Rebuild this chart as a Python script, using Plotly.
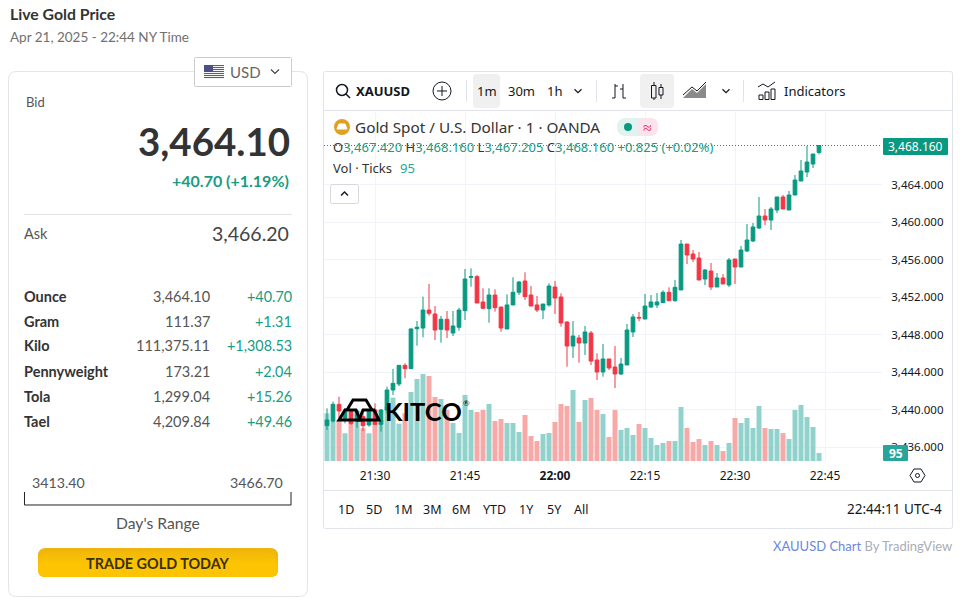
import pandas as pd
import plotly.graph_objects as go

W = 961
H = 598

# 1 minute candles, 21:22 to 22:44
times = pd.date_range("2025-04-21 21:22", periods=83, freq="min")
opens = [3438.28, 3438.77, 3440.55, 3439.06, 3439.77, 3438.77, 3439.24, 3438.35, 3439.95, 3438.42,
         3439.95, 3442.08, 3442.72, 3444.71, 3444.36, 3448.62, 3448.69, 3450.61, 3450.19, 3448.55,
         3449.62, 3448.16, 3448.77, 3450.54, 3454.10, 3454.17, 3451.47, 3450.76, 3452.21, 3450.93,
         3448.59, 3451.15, 3452.50, 3453.71, 3452.21, 3451.15, 3450.61, 3451.15, 3453.07, 3452.00,
         3449.33, 3446.77, 3447.63, 3447.09, 3448.16, 3445.28, 3444.00, 3445.39, 3444.53, 3443.79,
         3444.75, 3448.27, 3449.83, 3449.65, 3450.93, 3451.15, 3451.40, 3452.50, 3451.61, 3452.75,
         3457.65, 3456.59, 3456.16, 3453.92, 3454.77, 3453.07, 3454.03, 3453.28, 3456.05, 3455.20,
         3456.91, 3457.97, 3459.36, 3460.64, 3460.21, 3461.28, 3462.67, 3461.28, 3462.88, 3464.37,
         3465.33, 3466.19, 3467.42]
highs = [3440.12, 3440.84, 3441.37, 3440.12, 3439.95, 3439.95, 3439.95, 3439.88, 3440.66, 3440.05,
         3442.44, 3444.32, 3444.71, 3444.93, 3448.66, 3449.44, 3452.04, 3453.39, 3451.04, 3449.97,
         3450.51, 3450.51, 3450.86, 3454.99, 3455.06, 3454.35, 3452.93, 3452.93, 3452.82, 3450.93,
         3452.28, 3454.10, 3453.71, 3454.63, 3453.17, 3452.11, 3451.25, 3453.46, 3453.71, 3452.39,
         3449.41, 3449.44, 3447.95, 3448.91, 3448.37, 3445.99, 3446.99, 3445.39, 3446.77, 3445.49,
         3449.12, 3450.19, 3450.40, 3452.32, 3452.21, 3452.43, 3452.71, 3453.03, 3453.81, 3458.08,
         3457.65, 3457.01, 3456.80, 3454.99, 3455.63, 3454.56, 3454.45, 3456.16, 3456.05, 3457.44,
         3459.79, 3459.89, 3462.67, 3461.39, 3461.60, 3462.67, 3462.88, 3463.31, 3465.01, 3466.61,
         3468.11, 3467.25, 3468.16]
lows = [3437.81, 3438.63, 3438.88, 3438.52, 3438.35, 3438.06, 3437.71, 3438.17, 3438.35, 3437.64,
        3439.59, 3441.55, 3442.51, 3443.33, 3444.36, 3446.81, 3447.70, 3450.01, 3447.41, 3447.13,
        3447.63, 3447.84, 3448.41, 3449.55, 3453.10, 3451.36, 3450.69, 3449.26, 3450.44, 3448.30,
        3448.59, 3451.15, 3452.21, 3451.68, 3451.04, 3450.40, 3449.65, 3450.97, 3450.19, 3448.84,
        3444.57, 3445.49, 3445.00, 3445.81, 3444.75, 3443.15, 3443.50, 3444.21, 3442.29, 3443.68,
        3444.75, 3447.73, 3449.41, 3449.65, 3450.83, 3450.83, 3451.40, 3451.61, 3451.50, 3452.75,
        3455.52, 3455.73, 3453.81, 3453.28, 3452.75, 3453.07, 3453.39, 3453.07, 3453.39, 3455.20,
        3456.80, 3457.87, 3459.25, 3459.68, 3459.15, 3460.96, 3461.39, 3461.28, 3462.88, 3464.37,
        3464.80, 3465.76, 3467.205]
closes = [3438.88, 3440.55, 3439.84, 3439.77, 3438.52, 3439.84, 3438.28, 3439.77, 3438.42, 3439.95,
          3442.08, 3442.79, 3444.71, 3444.36, 3448.59, 3448.77, 3450.61, 3450.26, 3448.48, 3449.62,
          3448.48, 3448.91, 3450.61, 3453.92, 3454.17, 3451.36, 3450.79, 3452.21, 3450.86, 3448.69,
          3451.15, 3452.50, 3453.60, 3452.04, 3451.04, 3450.61, 3451.25, 3453.17, 3451.89, 3449.23,
          3446.77, 3447.84, 3447.09, 3448.27, 3445.17, 3444.00, 3445.39, 3444.43, 3443.79, 3444.85,
          3448.48, 3449.87, 3449.76, 3451.04, 3451.47, 3451.47, 3452.50, 3451.61, 3453.03, 3457.65,
          3456.48, 3456.05, 3453.81, 3454.88, 3453.07, 3454.03, 3453.39, 3455.95, 3455.20, 3457.01,
          3458.08, 3459.47, 3460.64, 3460.21, 3461.39, 3462.67, 3461.39, 3462.88, 3464.48, 3465.44,
          3466.40, 3467.25, 3468.16]
volumes = [566, 475, 487, 329, 467, 487, 388, 329, 447, 487,
           645, 752, 443, 566, 819, 974, 1033, 1009, 760, 736,
           606, 451, 332, 784, 606, 582, 606, 677, 475, 499,
           451, 451, 344, 546, 297, 237, 321, 332, 463, 677,
           653, 843, 463, 724, 748, 606, 558, 285, 606, 368,
           392, 309, 439, 392, 273, 190, 214, 237, 237, 641,
           392, 226, 261, 190, 237, 190, 119, 214, 511, 451,
           511, 392, 653, 392, 380, 380, 332, 261, 606, 665,
           522, 404, 95]

price_ticks = [3436, 3440, 3444, 3448, 3452, 3456, 3460, 3464]
time_ticks = ["2025-04-21 21:30", "2025-04-21 21:45", "2025-04-21 22:00",
              "2025-04-21 22:15", "2025-04-21 22:30", "2025-04-21 22:45"]
time_labels = ["21:30", "21:45", "<b>22:00</b>", "22:15", "22:30", "22:45"]
range_buttons = ["1D", "5D", "1M", "3M", "6M", "YTD", "1Y", "5Y", "All"]

row_names = ["Ounce", "Gram", "Kilo", "Pennyweight", "Tola", "Tael"]
row_prices = ["3,464.10", "111.37", "111,375.11", "173.21", "1,299.04", "4,209.84"]
row_changes = ["+40.70", "+1.31", "+1,308.53", "+2.04", "+15.26", "+49.46"]

UP = "#089981"
DOWN = "#f23645"
GRID = "#f0f3fa"
TV_FONT = "Noto Sans"
SITE_FONT = "Lato"

shapes = []
notes = []


def px(x):
    return x / W


def py(y):
    return 1 - y / H


def label(x, y, text, size=13, color="#131722", anchor="left", font=SITE_FONT, weight=None):
    # annotation boxes pad their text by about 2px
    if anchor == "left":
        x -= 2
    elif anchor == "right":
        x += 2
    f = dict(family=font, size=size, color=color)
    if weight:
        f["weight"] = weight
    notes.append(dict(x=px(x), y=py(y), xref="paper", yref="paper", text=text, showarrow=False,
                      xanchor=anchor, yanchor="middle", font=f))


def path(points, color="#131722", width=1, fill=None, close=False, layer="above"):
    d = ""
    for i, p in enumerate(points):
        d += ("M" if i == 0 else "L") + f"{px(p[0]):.5f},{py(p[1]):.5f} "
    if close:
        d += "Z"
    shapes.append(dict(type="path", path=d, xref="paper", yref="paper", layer=layer,
                       line=dict(color=color, width=width), fillcolor=fill))


def box(x0, y0, x1, y1, fill=None, line=None, width=1, r=0, layer="above"):
    p = lambda x, y: f"{px(x):.5f},{py(y):.5f}"
    d = (f"M{p(x0 + r, y0)} L{p(x1 - r, y0)} Q{p(x1, y0)} {p(x1, y0 + r)} "
         f"L{p(x1, y1 - r)} Q{p(x1, y1)} {p(x1 - r, y1)} L{p(x0 + r, y1)} "
         f"Q{p(x0, y1)} {p(x0, y1 - r)} L{p(x0, y0 + r)} Q{p(x0, y0)} {p(x0 + r, y0)} Z")
    shapes.append(dict(type="path", path=d, xref="paper", yref="paper", layer=layer, fillcolor=fill,
                       line=dict(color=line if line else "rgba(0,0,0,0)", width=width if line else 0)))


def circle(cx, cy, r, fill=None, line=None, width=1):
    shapes.append(dict(type="circle", xref="paper", yref="paper", x0=px(cx - r), x1=px(cx + r),
                       y0=py(cy + r), y1=py(cy - r), fillcolor=fill,
                       line=dict(color=line if line else "rgba(0,0,0,0)", width=width if line else 0)))


def chevron(cx, cy, color="#131722", s=4):
    path([(cx - s, cy - s / 2), (cx, cy + s / 2), (cx + s, cy - s / 2)], color=color, width=1.2)


# left card
label(10, 14, "Live Gold Price", 15.8, "#333333", weight=700)
label(10, 37, "Apr 21, 2025 - 22:44 NY Time", 13.5, "#707070")
box(8.5, 71.5, 307.5, 596.5, fill="white", line="#e4e4e4", r=8)
box(194.5, 57.5, 291.5, 86.5, fill="white", line="#cccccc", r=1)
for i in range(7):
    box(204, 65 + i * 2, 224, 66 + i * 2, fill="#c8313e")
    box(204, 66 + i * 2, 224, 67 + i * 2, fill="#f4f4f4")
box(204, 65, 213, 72, fill="#4a4f86")
label(230, 72, "USD", 15, "#666666")
chevron(275, 71.5, "#444444")
label(26, 102, "Bid", 13, "#555555")
label(290, 140.5, "3,464.10", 38.5, "#333333", "right", weight=700)
label(289, 180, "+40.70 (+1.19%)", 16, "#1a9b83", "right", weight=700)
path([(24, 214.5), (292, 214.5)], "#e2e2e2")
label(24, 233, "Ask", 14.5, "#555555")
label(289, 234, "3,466.20", 19.5, "#444444", "right")
for i, name in enumerate(row_names):
    y = 296 + i * 25
    label(24, y, name, 14.5, "#333333", weight=700)
    label(210, y, row_prices[i], 14.5, "#555555", "right")
    label(292, y, row_changes[i], 14.4, "#1a9b83", "right")
label(32, 482, "3413.40", 14.2, "#555555")
label(283, 482, "3466.70", 14.2, "#555555", "right")
path([(24.5, 492), (24.5, 505), (291, 505), (291, 492)], "#222222")
label(158, 523, "Day's Range", 15.7, "#555555", "center")
gold = ["#eeb40c", "#f0b60b", "#f2b909", "#f4bb08", "#f6bd07", "#f8c005", "#fac204", "#fcc402"]
for i, c in enumerate(gold):
    box(38, 548 + i * 2, 278, 577, fill=c, r=8)
label(158, 563, "TRADE GOLD TODAY", 14.4, "#3a2f10", "center", weight=700)

# chart frame and toolbar
box(323.5, 71.5, 952.5, 528.5, line="#e0e3eb", r=2, layer="below")
path([(324, 110.5), (952, 110.5)], "#e0e3eb")
path([(324, 490.5), (952, 490.5)], "#e0e3eb")
circle(342, 90, 5.5, line="#131722", width=1.5)
path([(346, 94), (350, 98)], width=1.5)
label(356, 91, "XAUUSD", 13, "#131722", font=TV_FONT, weight=700)
circle(442, 91, 9, line="#131722")
path([(442, 86), (442, 96)])
path([(437, 91), (447, 91)])
path([(466.5, 80), (466.5, 102)], "#e0e3eb")
box(473, 74, 500, 108, fill="#f0f0f0", r=4)
label(487, 91, "1m", 13, font=TV_FONT, anchor="center")
label(521, 91, "30m", 13, font=TV_FONT, anchor="center")
label(554, 91, "1h", 13, font=TV_FONT, anchor="center")
chevron(578, 91, s=3.5)
path([(596.5, 80), (596.5, 102)], "#e0e3eb")
path([(612, 98), (615, 98), (615, 84)])
path([(615, 86), (618, 86)])
path([(620, 89), (623, 89)])
path([(623, 84), (623, 98), (626, 98)])
box(640, 74, 674, 108, fill="#f0f0f0", r=4)
path([(654, 82), (654, 100)])
box(651.5, 85.5, 656, 98, fill="#f0f0f0", line="#131722")
path([(661, 84), (661, 99)])
box(659, 87.5, 663, 95, fill="#f0f0f0", line="#131722")
path([(683, 98), (692, 89), (697, 93), (706, 84), (706, 98)], "rgba(0,0,0,0)", fill="#8a8a8a", close=True)
path([(683, 95), (692, 87), (697, 91), (706, 82)])
chevron(726, 91, s=3.5)
path([(743.5, 80), (743.5, 102)], "#e0e3eb")
path([(758, 87), (763, 84), (768, 87), (775, 82)])
box(759, 95, 763, 99.5, line="#131722")
box(765, 92, 769, 99.5, line="#131722")
box(771, 89, 775, 99.5, line="#131722")
label(784, 91, "Indicators", 13, font=TV_FONT)

# legend block
circle(342, 127, 8, fill="#dfa11f")
path([(339, 124), (345, 124), (347, 129), (337, 129)], "white", fill="white", close=True)
label(355, 127, "Gold Spot / U.S. Dollar · 1 · OANDA", 15.3, "#333333", font=TV_FONT)
box(617, 118, 658, 136, fill="#e0f3f0", r=9)
box(637, 118, 658, 136, fill="#fce3ec", r=8)
circle(628, 127, 4, fill=UP)
label(647, 127, "≈", 16, "#e91e63", "center", font=TV_FONT)
ohlc = [("O", "3,467.420"), ("H", "3,468.160"), ("L", "3,467.205"), ("C", "3,468.160")]
text = ""
for name, value in ohlc:
    text += f"<span style='color:#333333'>{name}</span>{value} "
text += "+0.825 (+0.02%)"
label(333, 147, text, 13, "#1a9b83", font=TV_FONT)
label(333, 168, "Vol · Ticks", 13, "#333333", font=TV_FONT)
label(400, 168, "95", 13, "#26a69a", font=TV_FONT)
box(330.5, 184.5, 358.5, 203.5, fill="white", line="#d6d8de", r=2)
path([(341, 195.5), (344.5, 192), (348, 195.5)], width=1.4)

# last price line and labels
shapes.append(dict(type="line", xref="paper", yref="y2", x0=px(324), x1=px(882),
                   y0=closes[-1], y1=closes[-1],
                   line=dict(color=UP, width=1, dash="1px,2px")))
box(883, 138, 948, 155, fill=UP, r=1)
label(915.5, 146.5, "3,468.160", 12, "white", "center", font=TV_FONT)
box(883, 445, 908, 461, fill="#26a69a", r=1)
label(895.5, 453, "95", 12, "white", "center", font=TV_FONT, weight=700)

# logo
path([(347, 410), (353, 400), (366, 400), (372, 410)], "black", width=3)
path([(345, 410), (356, 410), (360, 420), (339, 420)], "black", width=3, close=True)
path([(363, 410), (374, 410), (379, 420), (359, 420)], "black", width=3, close=True)
label(385, 411, "KITCO", 25.5, "black", font="Lato", weight=700)
label(466, 403, "®", 8, "black", "center", font="Lato")

# time axis corner
path([(910, 475.5), (914, 469), (921, 469), (925, 475.5), (921, 482), (914, 482)], close=True)
circle(917.5, 475.5, 2, line="#131722")

# bottom bar
xs = [346, 374, 403, 432, 461, 494, 526, 554, 581]
for name, x in zip(range_buttons, xs):
    label(x, 509, name, 12.5, anchor="center", font=TV_FONT)
label(942, 509, "22:44:11 UTC-4", 13.5, anchor="right", font=TV_FONT)
label(952, 546, "<span style='color:#6a87dd'>XAUUSD Chart</span> By TradingView", 13,
      "#a9adb5", "right")

vol_colors = ["#92d2cc" if c >= o else "#f7a9a7" for o, c in zip(opens, closes)]

fig = go.Figure()
fig.add_trace(go.Bar(x=times, y=volumes, marker_color=vol_colors, marker_line_width=0,
                     width=50000, yaxis="y", hoverinfo="skip"))
fig.add_trace(go.Candlestick(x=times, open=opens, high=highs, low=lows, close=closes, yaxis="y2",
                             increasing=dict(line=dict(color=UP, width=1), fillcolor=UP),
                             decreasing=dict(line=dict(color=DOWN, width=1), fillcolor=DOWN),
                             whiskerwidth=0))

dom_y = [py(461), py(112)]
fig.update_layout(
    width=W, height=H,
    margin=dict(l=0, r=0, t=0, b=0),
    paper_bgcolor="white", plot_bgcolor="white",
    showlegend=False,
    boxgap=0.12,
    shapes=shapes,
    annotations=notes,
    xaxis=dict(domain=[px(324), px(882)],
               range=["2025-04-21 21:21:30", "2025-04-21 22:54:30"],
               type="date", rangeslider=dict(visible=False),
               tickvals=time_ticks, ticktext=time_labels,
               tickfont=dict(family=TV_FONT, size=12, color="#131722"),
               ticks="outside", ticklen=4, tickcolor="rgba(0,0,0,0)",
               showgrid=True, gridcolor=GRID, gridwidth=1, zeroline=False, showline=False),
    yaxis=dict(domain=dom_y, range=[0, 4144], visible=False, showgrid=False),
    yaxis2=dict(domain=dom_y, overlaying="y", side="right", anchor="x",
                range=[3434.507, 3471.733],
                tickvals=price_ticks, tickformat=",.3f",
                tickfont=dict(family=TV_FONT, size=11.5, color="#131722"),
                ticks="outside", ticklen=6, tickcolor="rgba(0,0,0,0)",
                showgrid=True, gridcolor=GRID, gridwidth=1, zeroline=False, showline=False),
)

fig.write_html("out.html", config={"displayModeBar": False},
               post_script="document.body.style.margin='0'")
